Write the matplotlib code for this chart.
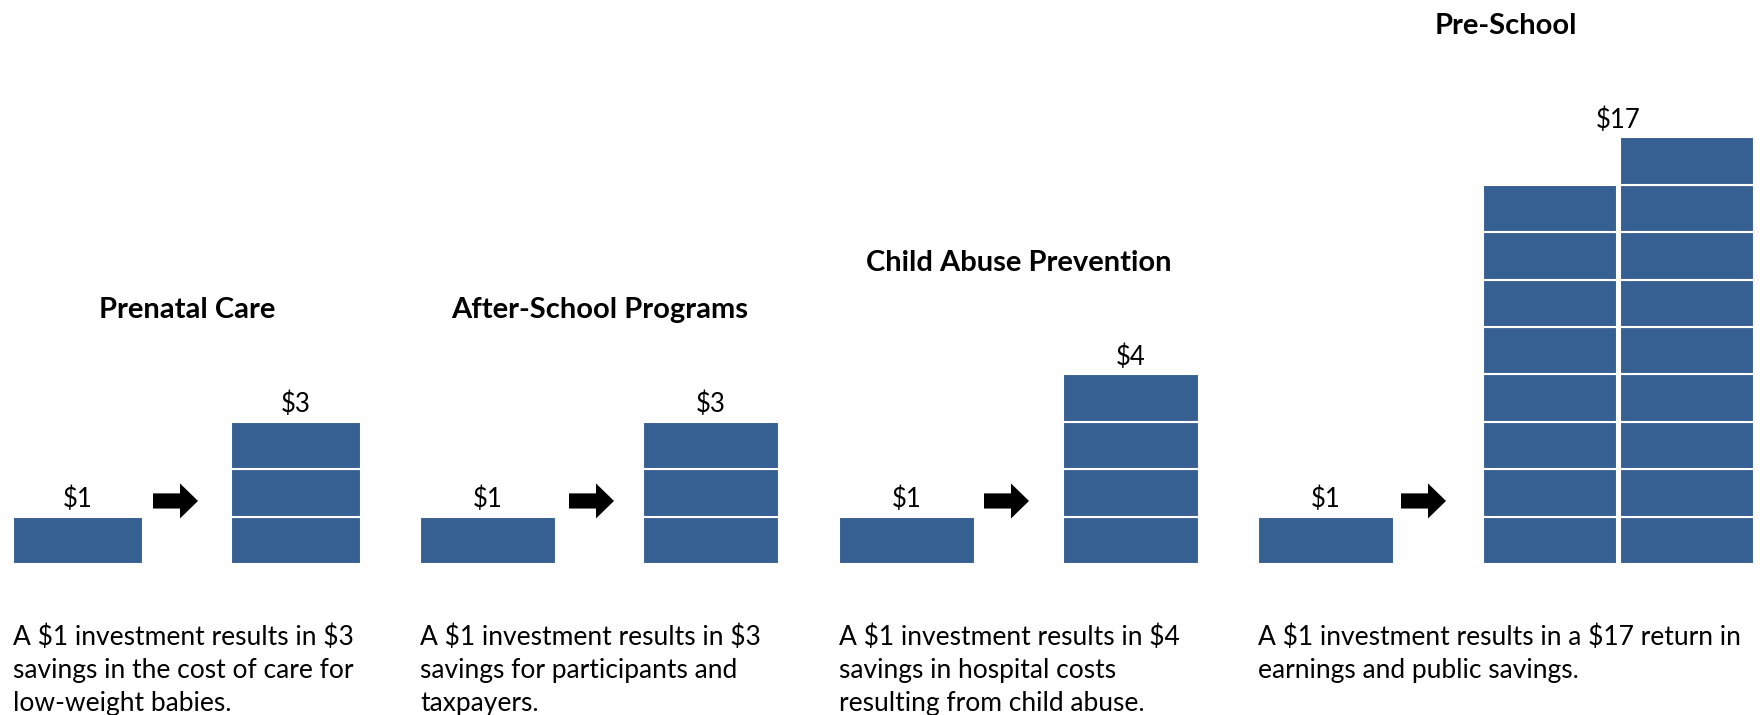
import numpy as np
import matplotlib
matplotlib.use("Agg")
import matplotlib.pyplot as plt
from matplotlib.patches import FancyArrow

# data
programs = ["Prenatal Care", "After-School Programs", "Child Abuse Prevention", "Pre-School"]
invest = [1, 1, 1, 1]
returns = [3, 3, 4, 17]
notes = [
    "A $1 investment results in $3\nsavings in the cost of care for\nlow-weight babies.",
    "A $1 investment results in $3\nsavings for participants and\ntaxpayers.",
    "A $1 investment results in $4\nsavings in hospital costs\nresulting from child abuse.",
    "A $1 investment results in a $17 return in\nearnings and public savings.",
]

# layout (x in pixels, y in dollars)
bar_left = [13, 420, 839, 1258]
bar_w = [130, 136, 136, 136]
arrow_left = [153, 569, 984, 1401]
stack_left = [231, 643, 1063, 1483]
stack_w = [130, 136, 136, 134]
max_per_col = 9
blue = "#376092"
px_per_unit = 47.4
base_px = 564

plt.rcParams['font.family'] = ['Lato', 'DejaVu Sans']

fig = plt.figure(figsize=(17.64, 7.15), dpi=100)
ax = fig.add_axes([0, 0, 1, 1])
ax.set_xlim(0, 1764)
ax.set_ylim(-(715 - base_px) / px_per_unit, base_px / px_per_unit)
ax.axis("off")

for i in range(len(programs)):
    # $1 block
    ax.bar(bar_left[i], invest[i], width=bar_w[i], align="edge", color=blue,
           edgecolor="white", linewidth=1.5)
    ax.text(bar_left[i] + bar_w[i] / 2, invest[i] + 0.36, "$%d" % invest[i],
            ha="center", va="center", fontsize=18.5, parse_math=False)

    # arrow
    ax.add_patch(FancyArrow(arrow_left[i], invest[i] + 0.33, 45, 0, width=0.32,
                            head_width=0.74, head_length=18,
                            length_includes_head=True, color="black", lw=0))

    # return stack, split into columns
    cols = []
    rem = returns[i]
    while rem > 0:
        cols.insert(0, min(max_per_col, rem))
        rem -= cols[0]
    for c, n in enumerate(cols):
        x = stack_left[i] + c * (stack_w[i] + 3)
        ax.bar([x] * n, np.ones(n), bottom=np.arange(n), width=stack_w[i],
               align="edge", color=blue, edgecolor="white", linewidth=1.5)
    total_w = len(cols) * stack_w[i] + (len(cols) - 1) * 3
    top = max(cols)
    ax.text(stack_left[i] + total_w / 2, top + 0.36, "$%d" % returns[i],
            ha="center", va="center", fontsize=18.5, parse_math=False)

    # title
    cx = (bar_left[i] + stack_left[i] + total_w) / 2
    ax.text(cx, top + 2.35, programs[i], ha="center", va="center",
            fontsize=21, fontweight="bold")

    # note
    ax.text(bar_left[i], -1.27, notes[i], ha="left", va="top", fontsize=19,
            linespacing=1.42, parse_math=False)

fig.savefig("out.png", dpi=100)
